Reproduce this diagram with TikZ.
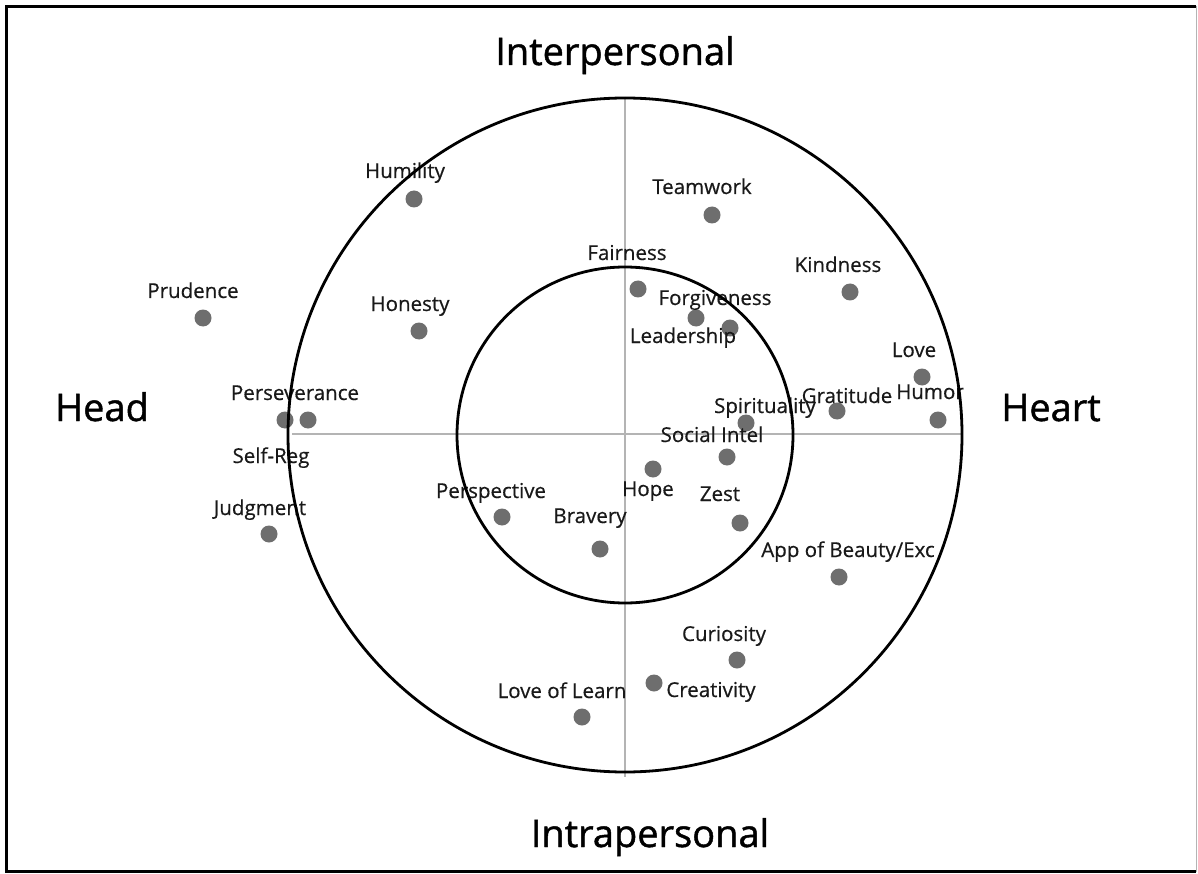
\documentclass[tikz,border=0pt]{standalone}
\usepackage{fontspec}
\setmainfont{Open Sans}
\newfontfamily\bigfont[FakeBold=1.2]{Open Sans}
\newfontfamily\smallfont[FakeBold=0.5]{Open Sans}
\begin{document}
\begin{tikzpicture}[x=1pt,y=-1pt,
  dot/.style={circle,fill=dotgray,inner sep=0pt,minimum size=17pt},
  lbl/.style={anchor=base,inner sep=0pt,font=\smallfont\fontsize{20.5}{24}\selectfont,text=black!90},
  big/.style={anchor=base,inner sep=0pt,font=\bigfont\fontsize{38}{46}\selectfont},
  axis/.style={draw=axisgray,line width=2pt},
  ring/.style={draw=black,line width=2.8pt}]
\definecolor{dotgray}{HTML}{6E6E6E}
\definecolor{axisgray}{HTML}{B4B4B4}
\useasboundingbox (0,0) rectangle (1198,874);
\fill[white] (0,0) rectangle (1198,874);
% frame
\draw[line width=3pt,black] (1196,6.5) -- (6.5,6.5) -- (6.5,871.5) -- (1196,871.5);
\draw[line width=1.5pt,axisgray] (1196.5,6) -- (1196.5,872);
% axes
\coordinate (hl) at (292,434);
\coordinate (hr) at (963,434);
\coordinate (vt) at (625,97);
\coordinate (vb) at (625,777);
\draw[axis] (hl) -- (hr);
\draw[axis] (vt) -- (vb);
% big labels
\node[big] (inter) at (615,65) {Interpersonal};
\node[big] (intra) at (650,847) {Intrapersonal};
\node[big] (head) at (102,421) {Head};
\node[big] (heart) at (1051,421) {Heart};
% dots
\node[dot] (dHumility) at (414,199) {};
\node[dot] (dTeamwork) at (712,215) {};
\node[dot] (dFairness) at (638,289) {};
\node[dot] (dKindness) at (850,292) {};
\node[dot] (dPrudence) at (203,318) {};
\node[dot] (dHonesty) at (419,331) {};
\node[dot] (dLeadership) at (696,318) {};
\node[dot] (dForgiveness) at (730,328) {};
\node[dot] (dLove) at (922,377) {};
\node[dot] (dGratitude) at (837,411) {};
\node[dot] (dHumor) at (938,420) {};
\node[dot] (dSpirit) at (746,423) {};
\node[dot] (dSocial) at (727,457) {};
\node[dot] (dHope) at (653,469) {};
\node[dot] (dZest) at (740,523) {};
\node[dot] (dPersp) at (502,517) {};
\node[dot] (dBravery) at (600,549) {};
\node[dot] (dBeauty) at (839,577) {};
\node[dot] (dCuriosity) at (737,660) {};
\node[dot] (dCreativity) at (654,683) {};
\node[dot] (dLoveLearn) at (582,717) {};
\node[dot] (dPersev) at (308,420) {};
\node[dot] (dSelfReg) at (285,420) {};
\node[dot] (dJudgment) at (269,534) {};
% labels
\node[lbl] (lHumility) at (405,178) {Humility};
\node[lbl] (lTeamwork) at (702,194) {Teamwork};
\node[lbl] (lFairness) at (627,260) {Fairness};
\node[lbl] (lKindness) at (838,272) {Kindness};
\node[lbl] (lPrudence) at (193,298) {Prudence};
\node[lbl] (lHonesty) at (410,311) {Honesty};
\node[lbl] (lForgiveness) at (715,305) {Forgiveness};
\node[lbl] (lLeadership) at (683,343) {Leadership};
\node[lbl] (lLove) at (914,357) {Love};
\node[lbl] (lGratitude) at (847,403) {Gratitude};
\node[lbl] (lHumor) at (930,399) {Humor};
\node[lbl] (lSpirit) at (765,413) {Spirituality};
\node[lbl] (lSocial) at (712,442) {Social Intel};
\node[lbl] (lHope) at (648,496) {Hope};
\node[lbl] (lZest) at (720,501) {Zest};
\node[lbl] (lPersp) at (491,498) {Perspective};
\node[lbl] (lBravery) at (590,523) {Bravery};
\node[lbl] (lBeauty) at (848,557) {App of Beauty/Exc};
\node[lbl] (lCuriosity) at (724,641) {Curiosity};
\node[lbl] (lCreativity) at (711,697) {Creativity};
\node[lbl] (lLoveLearn) at (562,698) {Love of Learn};
\node[lbl] (lPersev) at (295,400) {Perseverance};
\node[lbl] (lSelfReg) at (271,463) {Self-Reg};
\node[lbl] (lJudgment) at (260,515) {Judgment};
% rings (drawn over the labels, as in the original)
\coordinate (c) at (625,435);
\draw[ring] (c) circle[radius=337];
\draw[ring] (c) circle[radius=168];
\end{tikzpicture}
\end{document}
